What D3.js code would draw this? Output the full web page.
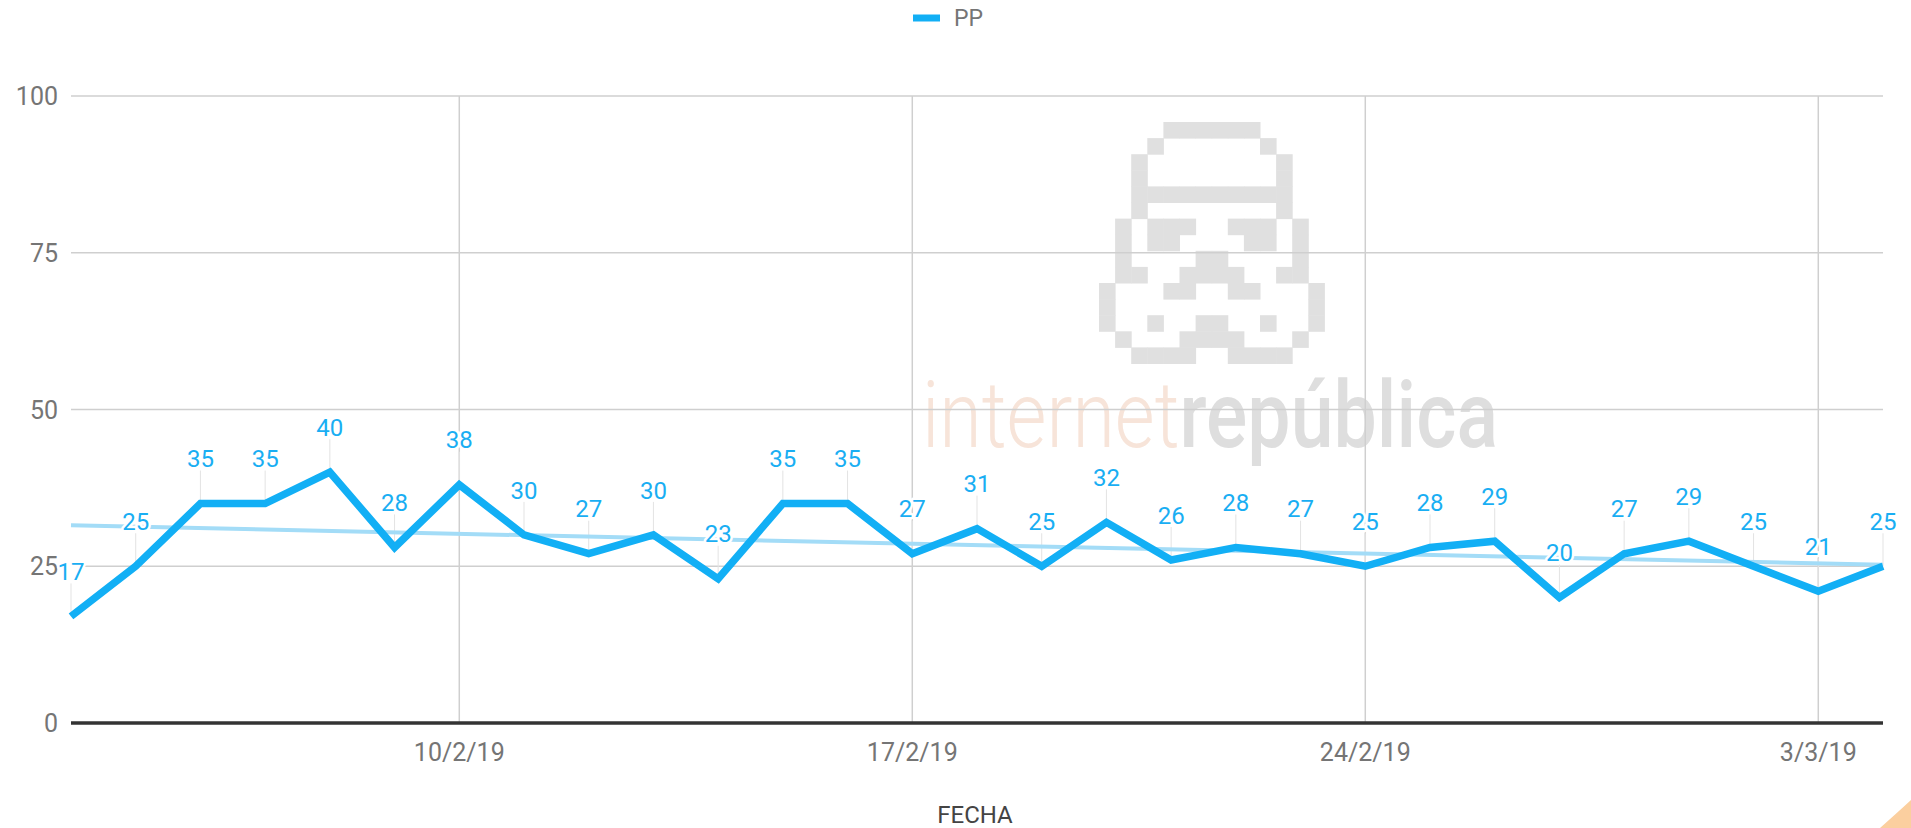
<!DOCTYPE html>
<html lang="es">
<head>
<meta charset="UTF-8">
<title>PP</title>
<style>
  body { margin: 0; background: #fff; overflow: hidden; }
  svg { display: block; font-family: Roboto, "Noto Sans", sans-serif; }
  .grid line { stroke: #cfcfcf; stroke-width: 1.5px; }
  .tick-label { fill: #757575; font-size: 25px; }
  .value-label { fill: #19aef3; font-size: 24px; paint-order: stroke; stroke: #fff; stroke-width: 5px; stroke-linejoin: round; }
</style>
</head>
<body>
<div id="chart"></div>
<script src="https://d3js.org/d3.v7.min.js"></script>
<script>
const dates = [
  "2019-02-04","2019-02-05","2019-02-06","2019-02-07","2019-02-08","2019-02-09","2019-02-10",
  "2019-02-11","2019-02-12","2019-02-13","2019-02-14","2019-02-15","2019-02-16","2019-02-17",
  "2019-02-18","2019-02-19","2019-02-20","2019-02-21","2019-02-22","2019-02-23","2019-02-24",
  "2019-02-25","2019-02-26","2019-02-27","2019-02-28","2019-03-01","2019-03-02","2019-03-03",
  "2019-03-04"
];
const ppValues = [17, 25, 35, 35, 40, 28, 38, 30, 27, 30, 23, 35, 35, 27, 31, 25, 32, 26, 28, 27, 25, 28, 29, 20, 27, 29, 25, 21, 25];
const yTicks = [0, 25, 50, 75, 100];
const seriesName = "PP";
const axisTitle = "FECHA";

// watermark pixel helmet, one string per row
const helmetRows = [
  "....######....",
  "...#......#...",
  "..#........#..",
  "..#........#..",
  "..##########..",
  "..#........#..",
  ".#.###..###.#.",
  ".#.##....##.#.",
  ".#....##....#.",
  ".##..####..##.",
  "#...##..##...#",
  "#............#",
  "#..#..##..#..#",
  ".#...####...#.",
  "..####..####.."
];

const width = 1911, height = 828;
const margin = { left: 71, right: 28, top: 96, bottom: 105 };
const blue = "#12aff5";

const parse = d3.timeParse("%Y-%m-%d");
const data = dates.map((d, i) => ({ date: parse(d), value: ppValues[i], i }));

const svg = d3.select("#chart").append("svg")
  .attr("width", width).attr("height", height);

const x = d3.scaleTime()
  .domain(d3.extent(data, d => d.date))
  .range([margin.left, width - margin.right]);
const y = d3.scaleLinear()
  .domain([0, 100])
  .range([height - margin.bottom, margin.top]);

// watermark
const wm = svg.append("g").attr("class", "watermark");
const cell = 16.1;
helmetRows.forEach((row, r) => {
  row.split("").forEach((c, k) => {
    if (c === "#") {
      wm.append("rect")
        .attr("x", 1099 + k * cell).attr("y", 122 + r * cell)
        .attr("width", cell + 0.5).attr("height", cell + 0.5)
        .attr("fill", "#e0e0e0");
    }
  });
});
const wmText = wm.append("text")
  .attr("x", 922).attr("y", 447)
  .attr("font-size", 92)
  .attr("textLength", 576).attr("lengthAdjust", "spacingAndGlyphs");
wmText.append("tspan")
  .attr("font-weight", 300).attr("fill", "#f7e4d9")
  .text("internet");
wmText.append("tspan")
  .attr("font-weight", 500).attr("fill", "#dedede")
  .text("república");

// grid
const xTicks = x.ticks(d3.timeSunday.every(1));
const grid = svg.append("g").attr("class", "grid");
grid.selectAll(".hg").data(yTicks.filter(t => t > 0)).join("line")
  .attr("x1", margin.left).attr("x2", width - margin.right)
  .attr("y1", d => y(d)).attr("y2", d => y(d));
grid.selectAll(".vg").data(xTicks).join("line")
  .attr("x1", d => x(d)).attr("x2", d => x(d))
  .attr("y1", y(100)).attr("y2", y(0));

// y axis labels
svg.append("g").selectAll("text").data(yTicks).join("text")
  .attr("class", "tick-label")
  .attr("x", margin.left - 13).attr("y", d => y(d))
  .attr("dy", "0.36em").attr("text-anchor", "end")
  .text(d => d);

// x axis labels
const fmt = d3.timeFormat("%-d/%-m/%y");
svg.append("g").selectAll("text").data(xTicks).join("text")
  .attr("class", "tick-label")
  .attr("x", d => x(d)).attr("y", 761)
  .attr("text-anchor", "middle")
  .text(d => fmt(d));

svg.append("text")
  .attr("x", 975).attr("y", 823)
  .attr("text-anchor", "middle")
  .attr("font-size", 24).attr("fill", "#444")
  .text(axisTitle);

// zero line
svg.append("line")
  .attr("x1", margin.left).attr("x2", width - margin.right)
  .attr("y1", y(0)).attr("y2", y(0))
  .attr("stroke", "#333").attr("stroke-width", 3.5);

// leader lines for labels
const labelOffset = 45;
svg.append("g").selectAll("line").data(data).join("line")
  .attr("x1", d => x(d.date)).attr("x2", d => x(d.date))
  .attr("y1", d => y(d.value) - labelOffset + 12).attr("y2", d => y(d.value))
  .attr("stroke", "#e3e3e3").attr("stroke-width", 1);

// linear trend line from the data
const n = data.length;
const mx = d3.mean(data, d => d.i), my = d3.mean(data, d => d.value);
const slope = d3.sum(data, d => (d.i - mx) * (d.value - my)) / d3.sum(data, d => (d.i - mx) ** 2);
const icpt = my - slope * mx;
svg.append("line")
  .attr("x1", x(data[0].date)).attr("y1", y(icpt))
  .attr("x2", x(data[n - 1].date)).attr("y2", y(icpt + slope * (n - 1)))
  .attr("stroke", "#a3dcf7").attr("stroke-width", 4);

// labels (halo hides what's behind)
svg.append("g").selectAll("text").data(data).join("text")
  .attr("class", "value-label")
  .attr("x", d => x(d.date)).attr("y", d => y(d.value) - labelOffset)
  .attr("dy", "0.36em").attr("text-anchor", "middle")
  .text(d => d.value);

// main series
const line = d3.line().x(d => x(d.date)).y(d => y(d.value));
svg.append("path").datum(data)
  .attr("d", line)
  .attr("fill", "none")
  .attr("stroke", blue).attr("stroke-width", 7.5)
  .attr("stroke-linejoin", "miter");

// legend
svg.append("line")
  .attr("x1", 913).attr("x2", 940).attr("y1", 18).attr("y2", 18)
  .attr("stroke", blue).attr("stroke-width", 7);
svg.append("text")
  .attr("x", 954).attr("y", 18).attr("dy", "0.36em")
  .attr("font-size", 23).attr("fill", "#757575")
  .text(seriesName);

// corner accent
svg.append("path")
  .attr("d", "M1880,828 Q1898,812 1911,800 L1911,828 Z")
  .attr("fill", "#fbcf9f");
</script>
</body>
</html>
